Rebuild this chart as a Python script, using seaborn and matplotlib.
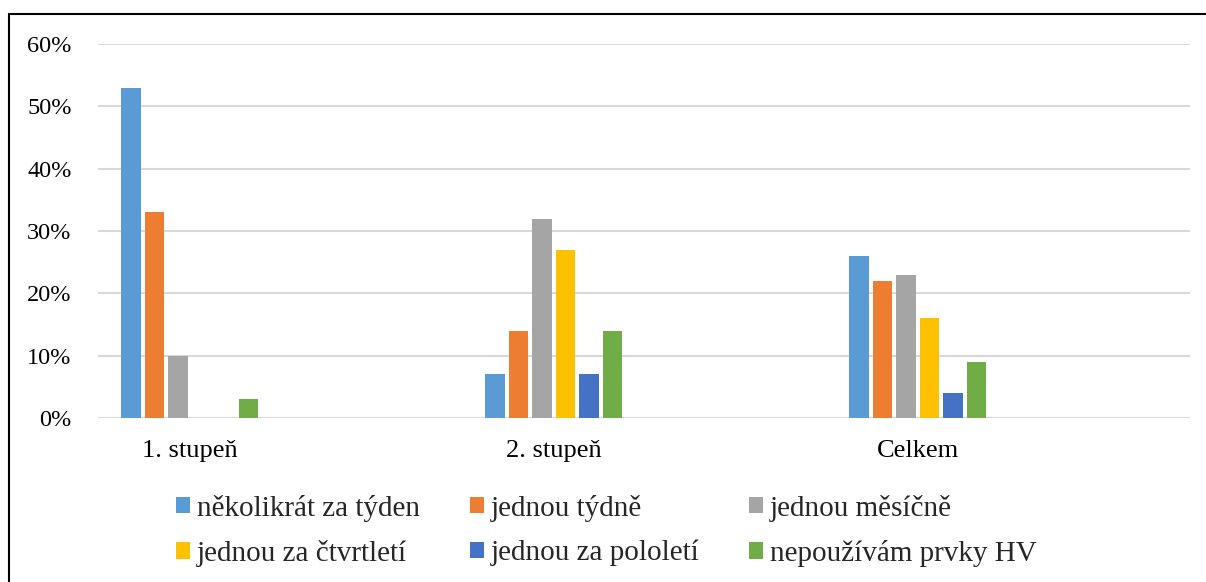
import numpy as np
import pandas as pd
import matplotlib
matplotlib.use("Agg")
import matplotlib.pyplot as plt
from matplotlib.ticker import PercentFormatter, MultipleLocator
from matplotlib.patches import Patch
from matplotlib.lines import Line2D
import seaborn as sns

categories = ["1. stupeň", "2. stupeň", "Celkem"]
series = ["několikrát za týden", "jednou týdně", "jednou měsíčně",
          "jednou za čtvrtletí", "jednou za pololetí", "nepoužívám prvky HV"]
values_1 = [0.53, 0.33, 0.10, 0.00, 0.00, 0.03]
values_2 = [0.07, 0.14, 0.32, 0.27, 0.07, 0.14]
values_c = [0.26, 0.22, 0.23, 0.16, 0.04, 0.09]
colors = ["#5B9BD5", "#ED7D31", "#A5A5A5", "#FFC000", "#4472C4", "#70AD47"]

rows = []
for cat, vals in zip(categories, [values_1, values_2, values_c]):
    for s, v in zip(series, vals):
        rows.append({"cat": cat, "series": s, "val": v})
df = pd.DataFrame(rows)

sns.set_theme(style="white")
plt.rcParams["font.family"] = ["Liberation Serif", "DejaVu Serif"]
plt.rcParams["font.size"] = 17

W, H = 1206, 582
fig = plt.figure(figsize=(W / 100, H / 100), dpi=100)
ax = fig.add_axes([98 / W, 1 - 418 / H, (1190 - 98) / W, (418 - 44) / H])

sns.barplot(data=df, x="cat", y="val", hue="series", order=categories,
            hue_order=series, palette=colors, width=0.388, gap=0.17,
            ax=ax, legend=False, saturation=1, edgecolor="none")

ax.set_ylim(0, 0.6)
ax.set_xlim(-0.252, 2.748)
ax.yaxis.set_major_locator(MultipleLocator(0.1))
ax.yaxis.set_major_formatter(PercentFormatter(1.0, decimals=0))
ax.grid(axis="y", color="#d9d9d9", linewidth=1.5)
ax.set_axisbelow(True)
for sp in ax.spines.values():
    sp.set_visible(False)
ax.set_xlabel("")
ax.set_ylabel("")
ax.tick_params(axis="x", length=0, pad=16, labelsize=19, colors="#000000")
ax.tick_params(axis="y", length=0, pad=19, labelsize=17.5, colors="#000000")

# reorder so that entries fill row by row (3 columns, 2 rows)
order = [0, 3, 1, 4, 2, 5]
handles = [Patch(facecolor=colors[i], edgecolor="none") for i in order]
labels = [series[i] for i in order]
fig.legend(handles, labels, loc="center", bbox_to_anchor=(0.503, 0.088),
           ncol=3, frameon=False, fontsize=21, handlelength=0.48,
           handleheight=0.48, handletextpad=0.24, columnspacing=1.7,
           labelspacing=0.62)

fig.add_artist(Line2D([9 / W, 9 / W], [0, 1 - 14 / H], transform=fig.transFigure,
                      color="black", linewidth=1.5))
fig.add_artist(Line2D([9 / W, 1], [1 - 14 / H, 1 - 14 / H], transform=fig.transFigure,
                      color="black", linewidth=1.5))

fig.savefig("out.png", dpi=100, facecolor="white")
